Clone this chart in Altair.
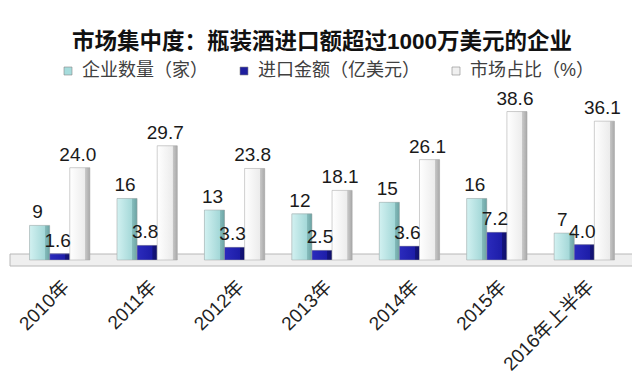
import altair as alt
import pandas as pd

years = ["2010年", "2011年", "2012年", "2013年", "2014年", "2015年", "2016年上半年"]
companies = [9, 16, 13, 12, 15, 16, 7]
imports_ = [1.6, 3.8, 3.3, 2.5, 3.6, 7.2, 4.0]
shares = [24.0, 29.7, 23.8, 18.1, 26.1, 38.6, 36.1]
series_names = ["企业数量（家）", "进口金额（亿美元）", "市场占比（%）"]
series_colors = ["#a6dcdc", "#1f1f9e", "#f0f0f0"]

rows = []
for i, y in enumerate(years):
    rows.append(dict(year=y, series=series_names[0], value=companies[i], label=str(companies[i])))
    rows.append(dict(year=y, series=series_names[1], value=imports_[i], label=f"{imports_[i]:.1f}"))
    rows.append(dict(year=y, series=series_names[2], value=shares[i], label=f"{shares[i]:.1f}"))
df = pd.DataFrame(rows)

W = 612
H = 160
FONT = "Liberation Sans, Noto Sans CJK SC, sans-serif"


def grad(front_l, front_r, side_l, side_r):
    return {"gradient": "linear", "x1": 0, "x2": 1, "y1": 0, "y2": 0,
            "stops": [{"offset": 0, "color": front_l},
                      {"offset": 0.76, "color": front_r},
                      {"offset": 0.77, "color": side_l},
                      {"offset": 1, "color": side_r}]}


g_cyan = grad("#d2f1f1", "#a4d8d8", "#86bcbc", "#6aa3a3")
g_blue = grad("#2b2bbd", "#1d1da8", "#14147e", "#10106a")
g_white = grad("#ffffff", "#ececec", "#c8c8c8", "#a9a9a9")

fill_def = {"condition": [{"test": f"datum.series === '{series_names[0]}'", "value": g_cyan},
                          {"test": f"datum.series === '{series_names[1]}'", "value": g_blue}],
            "value": g_white}

x = alt.X("year:N", sort=years,
          scale=alt.Scale(paddingInner=0.31, paddingOuter=0.155),
          axis=alt.Axis(title=None, labelAngle=-45, domain=False, ticks=False,
                        labelFontSize=19, labelColor="#222222", labelFont=FONT,
                        labelPadding=17))
xoff = alt.XOffset("series:N", sort=series_names, scale=alt.Scale(paddingInner=0.0))
y = alt.Y("value:Q", scale=alt.Scale(domain=[0, 41.6], nice=False), axis=None)

floor = alt.Chart(alt.Data(values=[{}])).mark_rect(
    fill="#efefef", stroke="#b8b8b8", strokeWidth=1
).encode(x=alt.value(-6), x2=alt.value(W + 8), y=alt.value(H - 6), y2=alt.value(H + 6))

base_bars = alt.Chart(df).mark_bar().encode(
    x=x, xOffset=xoff, y=y,
    color=alt.Color("series:N", sort=series_names,
                    scale=alt.Scale(domain=series_names, range=series_colors),
                    legend=alt.Legend(title=None, orient="none", direction="horizontal",
                                      legendX=43, legendY=-38, symbolType="square",
                                      symbolSize=64, symbolStrokeColor="#888888",
                                      symbolStrokeWidth=0.6, labelLimit=300,
                                      labelFontSize=18, labelColor="#404040",
                                      labelFont=FONT, labelOffset=5, columnPadding=27)),
)

grad_bars = alt.Chart(df).mark_bar(stroke="#a0a0a0", strokeWidth=0.5).encode(
    x=x, xOffset=xoff, y=y, fill=fill_def,
)

labels = alt.Chart(df).mark_text(
    baseline="alphabetic", dy=-7, dx=-2, fontSize=19, color="#1a1a1a", font=FONT
).encode(x=x, xOffset=xoff, y=y, text="label:N")

chart = alt.layer(floor, base_bars, grad_bars, labels).properties(
    width=W, height=H,
    title=alt.TitleParams("市场集中度：瓶装酒进口额超过1000万美元的企业",
                          fontSize=22.5, font=FONT, fontWeight="bold", color="#111111",
                          anchor="middle", offset=9),
    autosize=alt.AutoSizeParams(type="none"),
    padding={"left": 8, "top": 92, "right": 4, "bottom": 125},
).configure_view(stroke=None)

chart.save("out.html", embed_options={"renderer": "svg", "actions": False})
